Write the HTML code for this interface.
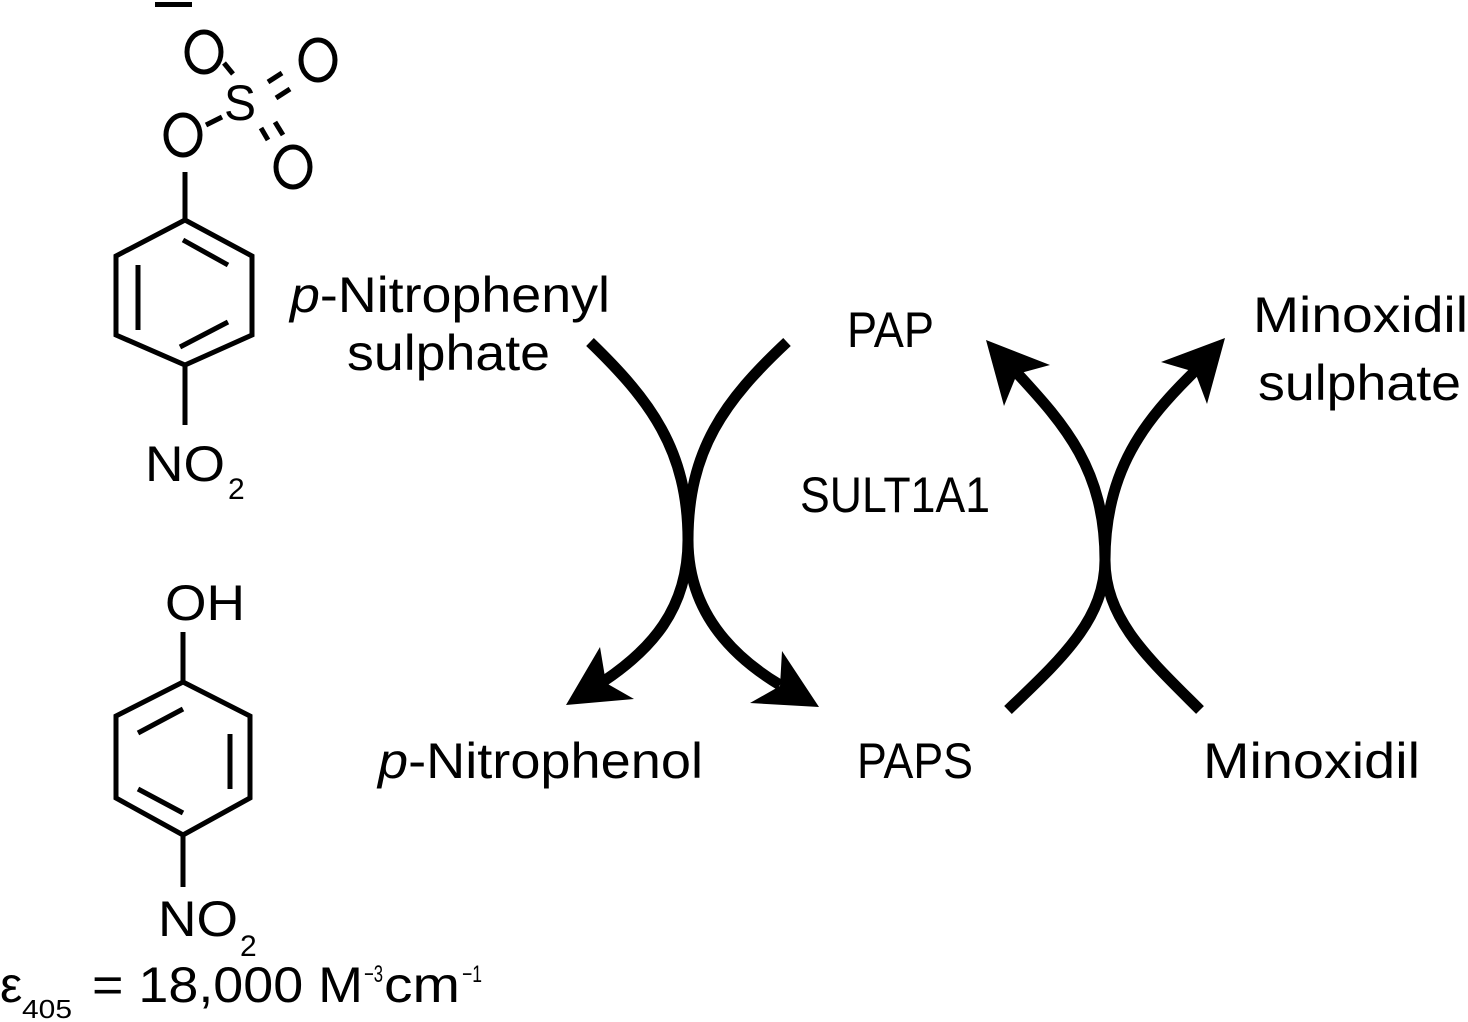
<!DOCTYPE html>
<html><head><meta charset="utf-8"><style>
html,body{margin:0;padding:0;background:#fff}
svg{display:block}
text{font-family:"Liberation Sans",sans-serif;fill:#000}
</style></head><body>
<svg width="1468" height="1022" viewBox="0 0 1468 1022" xmlns="http://www.w3.org/2000/svg">
<!-- Molecule 1 -->
<g stroke="#000" stroke-width="5" fill="none" stroke-linecap="butt">
<rect x="155" y="2" width="37" height="5" fill="#000" stroke="none"/>
<ellipse cx="204" cy="52" rx="17" ry="20"/>
<ellipse cx="318" cy="60" rx="17" ry="20"/>
<ellipse cx="293" cy="167" rx="17" ry="20"/>
<ellipse cx="183" cy="135" rx="17" ry="20"/>
<line x1="224" y1="63" x2="233" y2="74"/>
<line x1="206" y1="125" x2="222" y2="117"/>
<line x1="268" y1="82" x2="282" y2="73"/>
<line x1="276" y1="98" x2="290" y2="89"/>
<line x1="261" y1="128" x2="268" y2="140"/>
<line x1="275" y1="122" x2="283" y2="135"/>
<line x1="185" y1="172" x2="185" y2="220"/>
<polygon points="185,220 252,256 252,335 185,365 116,335 116,256"/>
<line x1="183" y1="240" x2="228" y2="265"/>
<line x1="138" y1="265" x2="138" y2="330"/>
<line x1="180" y1="347" x2="228" y2="322"/>
<line x1="185" y1="365" x2="185" y2="425"/>
</g>
<text x="224" y="120" font-size="50" textLength="32" lengthAdjust="spacingAndGlyphs">S</text>
<text x="145" y="481" font-size="50" textLength="80" lengthAdjust="spacingAndGlyphs">NO</text>
<text x="228" y="499" font-size="30">2</text>

<!-- Molecule 2 -->
<g stroke="#000" stroke-width="5" fill="none">
<line x1="183" y1="632" x2="183" y2="682"/>
<polygon points="183,682 250,716 250,798 183,835 116,798 116,716"/>
<line x1="138" y1="733" x2="183" y2="709"/>
<line x1="230" y1="734" x2="230" y2="789"/>
<line x1="138" y1="789" x2="183" y2="813"/>
<line x1="183" y1="835" x2="183" y2="887"/>
</g>
<text x="165" y="620" font-size="50" textLength="80" lengthAdjust="spacingAndGlyphs">OH</text>
<text x="158" y="936" font-size="50" textLength="80" lengthAdjust="spacingAndGlyphs">NO</text>
<text x="240" y="956" font-size="30">2</text>
<text x="0" y="1002" font-size="50">ε</text>
<text x="22" y="1018" font-size="26" textLength="50" lengthAdjust="spacingAndGlyphs">405</text>
<text x="92" y="1002" font-size="50" textLength="271" lengthAdjust="spacingAndGlyphs">= 18,000 M</text>
<text x="364" y="982" font-size="24" textLength="19" lengthAdjust="spacingAndGlyphs">−3</text>
<text x="384" y="1002" font-size="50" textLength="76" lengthAdjust="spacingAndGlyphs">cm</text>
<text x="462" y="982" font-size="24" textLength="20" lengthAdjust="spacingAndGlyphs">−1</text>

<!-- Labels -->
<text x="290" y="312" font-size="50" textLength="320" lengthAdjust="spacingAndGlyphs"><tspan font-style="italic">p</tspan>-Nitrophenyl</text>
<text x="347" y="370" font-size="50" textLength="203" lengthAdjust="spacingAndGlyphs">sulphate</text>
<text x="847" y="347" font-size="50" textLength="87" lengthAdjust="spacingAndGlyphs">PAP</text>
<text x="1253" y="332" font-size="50" textLength="215" lengthAdjust="spacingAndGlyphs">Minoxidil</text>
<text x="1258" y="400" font-size="50" textLength="203" lengthAdjust="spacingAndGlyphs">sulphate</text>
<text x="800" y="512" font-size="50" textLength="190" lengthAdjust="spacingAndGlyphs">SULT1A1</text>
<text x="378" y="778" font-size="50" textLength="325" lengthAdjust="spacingAndGlyphs"><tspan font-style="italic">p</tspan>-Nitrophenol</text>
<text x="857" y="778" font-size="50" textLength="116" lengthAdjust="spacingAndGlyphs">PAPS</text>
<text x="1203" y="778" font-size="50" textLength="217" lengthAdjust="spacingAndGlyphs">Minoxidil</text>

<!-- Arrows -->
<g stroke="#000" stroke-width="11" fill="none">
<path d="M590,342 C650,400 688,450 688,540 C688,610 650,650 604,681"/>
<path d="M787,342 C725,400 688,450 688,540 C688,610 730,655 780,685"/>
<path d="M1008,710 C1060,660 1105,620 1105,560 C1105,470 1065,425 1017,373"/>
<path d="M1200,710 C1150,660 1105,620 1105,560 C1105,470 1145,420 1195,371"/>
</g>
<g fill="#000">
<polygon points="566,705 634,699 606,683 600,647"/>
<polygon points="819,707 750,703 780,686 782,651"/>
<polygon points="986,340 1050,365 1017,374 1004,406"/>
<polygon points="1225,338 1207,404 1195,372 1161,362"/>
</g>
</svg>
</body></html>
